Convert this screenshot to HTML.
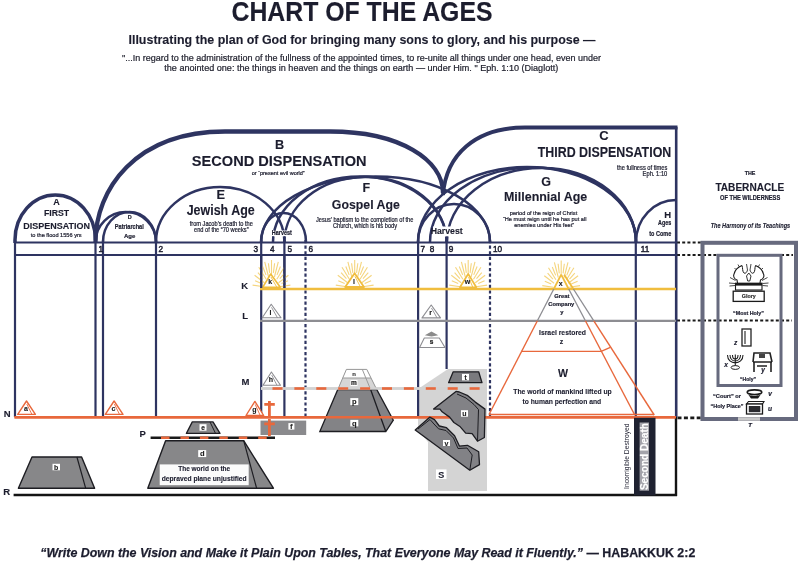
<!DOCTYPE html>
<html><head><meta charset="utf-8">
<style>
html,body{margin:0;padding:0;background:#ffffff;}
svg{display:block;filter:blur(0.3px);}
text{font-family:"Liberation Sans",sans-serif;}
</style></head><body>
<svg width="809" height="561" viewBox="0 0 809 561">
<rect width="809" height="561" fill="#ffffff"/>
<text x="231.5" y="21.2" font-size="27.3" font-weight="bold" textLength="261" lengthAdjust="spacingAndGlyphs" fill="#1c1d2e" stroke="#1c1d2e" stroke-width="0.12">CHART OF THE AGES</text>
<text x="128.5" y="44" font-size="13.5" font-weight="bold" textLength="467" lengthAdjust="spacingAndGlyphs" fill="#1c1d2e" stroke="#1c1d2e" stroke-width="0.12">Illustrating the plan of God for bringing many sons to glory, and his purpose —</text>
<text x="122" y="60.6" font-size="9.6" textLength="479" lengthAdjust="spacingAndGlyphs" fill="#1e1f2c" stroke="#1e1f2c" stroke-width="0.22">"...In regard to the administration of the fullness of the appointed times, to re-unite all things under one head, even under</text>
<text x="164.3" y="70.6" font-size="9.6" textLength="394" lengthAdjust="spacingAndGlyphs" fill="#1e1f2c" stroke="#1e1f2c" stroke-width="0.22">the anointed one: the things in heaven and the things on earth — under Him. "  Eph. 1:10 (Diaglott)</text>
<polygon points="418.0,389.0 448.0,369.0 487.0,369.0 487.0,491.0 428.0,491.0 428.0,442.0 418.0,430.0" fill="#d4d4d4" stroke="none" stroke-width="1" stroke-linejoin="round"/>
<line x1="14.5" y1="242.5" x2="676" y2="242.5" stroke="#2e3461" stroke-width="2.2"/>
<line x1="14.5" y1="255" x2="676" y2="255" stroke="#2e3461" stroke-width="2.2"/>
<line x1="677" y1="242.5" x2="701" y2="242.5" stroke="#1a1a1a" stroke-width="2.2" stroke-dasharray="3 2.2"/>
<line x1="677" y1="255" x2="793" y2="255" stroke="#1a1a1a" stroke-width="2.2" stroke-dasharray="3 2.2"/>
<line x1="677" y1="320.5" x2="792" y2="320.5" stroke="#1a1a1a" stroke-width="2.2" stroke-dasharray="3 2.2"/>
<line x1="677.5" y1="417.8" x2="701" y2="417.8" stroke="#1a1a1a" stroke-width="2.8" stroke-dasharray="4 2.4"/>
<line x1="15" y1="240" x2="15" y2="417" stroke="#2e3461" stroke-width="2.2"/>
<line x1="95.5" y1="240" x2="95.5" y2="417" stroke="#2e3461" stroke-width="2.2"/>
<line x1="103" y1="240" x2="103" y2="417" stroke="#2e3461" stroke-width="2.2"/>
<line x1="156" y1="240" x2="156" y2="417" stroke="#2e3461" stroke-width="2.2"/>
<line x1="261.2" y1="240" x2="261.2" y2="417" stroke="#2e3461" stroke-width="2.2"/>
<line x1="284.4" y1="240" x2="284.4" y2="417" stroke="#2e3461" stroke-width="2.2"/>
<line x1="418.1" y1="240" x2="418.1" y2="417" stroke="#2e3461" stroke-width="2.2"/>
<line x1="635.8" y1="240" x2="635.8" y2="417" stroke="#2e3461" stroke-width="2.2"/>
<line x1="446.6" y1="240" x2="446.6" y2="369" stroke="#2e3461" stroke-width="2.2"/>
<line x1="676.2" y1="127" x2="676.2" y2="417" stroke="#2e3461" stroke-width="2.6"/>
<line x1="305.5" y1="240" x2="305.5" y2="417" stroke="#2e3461" stroke-width="2.2" stroke-dasharray="3.2 2.4"/>
<line x1="490" y1="240" x2="490" y2="417" stroke="#2e3461" stroke-width="2.2" stroke-dasharray="3.2 2.4"/>
<path d="M15,243 L15,240 A40.25,45 0 0 1 95.5,240" stroke="#2e3461" stroke-width="3.5" fill="none"/>
<path d="M95.5,242 C95.5,190 135,131.5 225,131.5 L330,131.5 C400,131.5 443,160 443,193" stroke="#2e3461" stroke-width="4.3" fill="none"/>
<path d="M443,195 C446,155 475,127.5 525,127.5 L677.5,127.5" stroke="#2e3461" stroke-width="3.8" fill="none"/>
<path d="M95.5,242 A30.25,30 0 0 1 156,242" stroke="#2e3461" stroke-width="2.5" fill="none"/>
<path d="M103,242 A26.5,30 0 0 1 156,242" stroke="#2e3461" stroke-width="2.5" fill="none"/>
<path d="M156,242 A64.19999999999999,55 0 0 1 284.4,242" stroke="#2e3461" stroke-width="2.5" fill="none"/>
<path d="M261,242 A22.5,29 0 0 1 306,242" stroke="#2e3461" stroke-width="2.5" fill="none"/>
<path d="M261.2,242 A114.4,65.5 0 0 1 490,242" stroke="#2e3461" stroke-width="2.5" fill="none"/>
<path d="M273,242 A86.80000000000001,65.5 0 0 1 446.6,242" stroke="#2e3461" stroke-width="2.5" fill="none"/>
<path d="M284.4,242 A81.10000000000002,65 0 0 1 446.6,242" stroke="#2e3461" stroke-width="2.5" fill="none"/>
<path d="M418,242 A36.0,38 0 0 1 490,242" stroke="#2e3461" stroke-width="2.5" fill="none"/>
<path d="M418,242 A109.0,75 0 0 1 636,242" stroke="#2e3461" stroke-width="2.5" fill="none"/>
<path d="M430,242 A103.0,74.5 0 0 1 636,242" stroke="#2e3461" stroke-width="2.5" fill="none"/>
<path d="M447,242 A94.5,74 0 0 1 636,242" stroke="#2e3461" stroke-width="2.5" fill="none"/>
<rect x="271" y="230.5" width="22" height="6" fill="#ffffff"/>
<rect x="433" y="226.5" width="30" height="10" fill="#ffffff"/>
<line x1="273" y1="236.2" x2="273" y2="243" stroke="#2e3461" stroke-width="1.8"/>
<line x1="284.4" y1="236.2" x2="284.4" y2="243" stroke="#2e3461" stroke-width="1.8"/>
<line x1="430" y1="236.5" x2="430" y2="243" stroke="#2e3461" stroke-width="1.8"/>
<line x1="447" y1="236.5" x2="447" y2="243" stroke="#2e3461" stroke-width="1.8"/>
<path d="M636,242 A40,42 0 0 1 676,200" stroke="#2e3461" stroke-width="2.5" fill="none"/>
<text x="56.5" y="204.5" font-size="9" font-weight="bold" text-anchor="middle" fill="#1c1d2e" stroke="#1c1d2e" stroke-width="0.12">A</text>
<text x="56.5" y="216" font-size="9" font-weight="bold" text-anchor="middle" textLength="25.2" lengthAdjust="spacingAndGlyphs" fill="#1c1d2e" stroke="#1c1d2e" stroke-width="0.12">FIRST</text>
<text x="56.7" y="228.6" font-size="9.5" font-weight="bold" text-anchor="middle" textLength="66.7" lengthAdjust="spacingAndGlyphs" fill="#1c1d2e" stroke="#1c1d2e" stroke-width="0.12">DISPENSATION</text>
<text x="56.2" y="236.5" font-size="5.8" text-anchor="middle" textLength="50.9" lengthAdjust="spacingAndGlyphs" fill="#1c1d2e" stroke="#1c1d2e" stroke-width="0.22">to the flood 1556 yrs</text>
<text x="129.7" y="218.7" font-size="5.5" font-weight="bold" text-anchor="middle" fill="#1c1d2e" stroke="#1c1d2e" stroke-width="0.2">D</text>
<text x="129.3" y="228.7" font-size="6.3" font-weight="bold" text-anchor="middle" textLength="29" lengthAdjust="spacingAndGlyphs" fill="#1c1d2e" stroke="#1c1d2e" stroke-width="0.2">Patriarchal</text>
<text x="129.7" y="238" font-size="6" font-weight="bold" text-anchor="middle" fill="#1c1d2e" stroke="#1c1d2e" stroke-width="0.2">Age</text>
<text x="220.7" y="198.5" font-size="12.8" font-weight="bold" text-anchor="middle" fill="#1c1d2e" stroke="#1c1d2e" stroke-width="0.12">E</text>
<text x="220.7" y="214.6" font-size="14" font-weight="bold" text-anchor="middle" textLength="68" lengthAdjust="spacingAndGlyphs" fill="#1c1d2e" stroke="#1c1d2e" stroke-width="0.12">Jewish Age</text>
<text x="221.3" y="226.4" font-size="6.8" text-anchor="middle" textLength="63" lengthAdjust="spacingAndGlyphs" fill="#1c1d2e" stroke="#1c1d2e" stroke-width="0.22">from Jacob's death to the</text>
<text x="221.3" y="232" font-size="6.8" text-anchor="middle" textLength="54.5" lengthAdjust="spacingAndGlyphs" fill="#1c1d2e" stroke="#1c1d2e" stroke-width="0.22">end of the “70 weeks”</text>
<text x="279.5" y="148.5" font-size="12.7" font-weight="bold" text-anchor="middle" fill="#1c1d2e" stroke="#1c1d2e" stroke-width="0.12">B</text>
<text x="279.2" y="165.8" font-size="15.5" font-weight="bold" text-anchor="middle" textLength="174.7" lengthAdjust="spacingAndGlyphs" fill="#1c1d2e" stroke="#1c1d2e" stroke-width="0.12">SECOND DISPENSATION</text>
<text x="278.2" y="174.5" font-size="5.8" text-anchor="middle" textLength="53" lengthAdjust="spacingAndGlyphs" fill="#1c1d2e" stroke="#1c1d2e" stroke-width="0.22">or “present evil world”</text>
<text x="366.4" y="192.4" font-size="12.5" font-weight="bold" text-anchor="middle" fill="#1c1d2e" stroke="#1c1d2e" stroke-width="0.12">F</text>
<text x="365.8" y="208.8" font-size="13.5" font-weight="bold" text-anchor="middle" textLength="68" lengthAdjust="spacingAndGlyphs" fill="#1c1d2e" stroke="#1c1d2e" stroke-width="0.12">Gospel Age</text>
<text x="364.7" y="222.4" font-size="6.8" text-anchor="middle" textLength="97.4" lengthAdjust="spacingAndGlyphs" fill="#1c1d2e" stroke="#1c1d2e" stroke-width="0.22">Jesus' baptism to the completion of the</text>
<text x="365" y="227.8" font-size="6.8" text-anchor="middle" textLength="64" lengthAdjust="spacingAndGlyphs" fill="#1c1d2e" stroke="#1c1d2e" stroke-width="0.22">Church, which is his body</text>
<text x="604" y="140.4" font-size="13" font-weight="bold" text-anchor="middle" fill="#1c1d2e" stroke="#1c1d2e" stroke-width="0.12">C</text>
<text x="604.5" y="156.6" font-size="13.8" font-weight="bold" text-anchor="middle" textLength="133.5" lengthAdjust="spacingAndGlyphs" fill="#1c1d2e" stroke="#1c1d2e" stroke-width="0.12">THIRD DISPENSATION</text>
<text x="667.3" y="170" font-size="6.5" text-anchor="end" textLength="50.4" lengthAdjust="spacingAndGlyphs" fill="#1c1d2e" stroke="#1c1d2e" stroke-width="0.22">the fullness of times</text>
<text x="667.3" y="176.4" font-size="6.5" text-anchor="end" textLength="24.7" lengthAdjust="spacingAndGlyphs" fill="#1c1d2e" stroke="#1c1d2e" stroke-width="0.22">Eph. 1:10</text>
<text x="546" y="185.8" font-size="12.5" font-weight="bold" text-anchor="middle" fill="#1c1d2e" stroke="#1c1d2e" stroke-width="0.12">G</text>
<text x="545.6" y="201.3" font-size="13.5" font-weight="bold" text-anchor="middle" textLength="83.2" lengthAdjust="spacingAndGlyphs" fill="#1c1d2e" stroke="#1c1d2e" stroke-width="0.12">Millennial Age</text>
<text x="543.5" y="214.6" font-size="6.2" text-anchor="middle" textLength="67.4" lengthAdjust="spacingAndGlyphs" fill="#1c1d2e" stroke="#1c1d2e" stroke-width="0.22">period of the reign of Christ</text>
<text x="544.7" y="220.8" font-size="6.2" text-anchor="middle" textLength="83.5" lengthAdjust="spacingAndGlyphs" fill="#1c1d2e" stroke="#1c1d2e" stroke-width="0.22">“He must reign until he has put all</text>
<text x="544.2" y="226.6" font-size="6.2" text-anchor="middle" textLength="60" lengthAdjust="spacingAndGlyphs" fill="#1c1d2e" stroke="#1c1d2e" stroke-width="0.22">enemies under His feet”</text>
<text x="671.2" y="217.6" font-size="9.5" font-weight="bold" text-anchor="end" fill="#1c1d2e" stroke="#1c1d2e" stroke-width="0.12">H</text>
<text x="671.2" y="225.3" font-size="6.3" font-weight="bold" text-anchor="end" textLength="13.2" lengthAdjust="spacingAndGlyphs" fill="#1c1d2e" stroke="#1c1d2e" stroke-width="0.2">Ages</text>
<text x="671.2" y="235.6" font-size="6.3" font-weight="bold" text-anchor="end" textLength="21.9" lengthAdjust="spacingAndGlyphs" fill="#1c1d2e" stroke="#1c1d2e" stroke-width="0.2">to Come</text>
<text x="281.8" y="234.7" font-size="6.5" font-weight="bold" text-anchor="middle" textLength="20" lengthAdjust="spacingAndGlyphs" fill="#1c1d2e" stroke="#1c1d2e" stroke-width="0.2">Harvest</text>
<text x="446.7" y="233.7" font-size="8.7" font-weight="bold" text-anchor="middle" textLength="32" lengthAdjust="spacingAndGlyphs" fill="#1c1d2e" stroke="#1c1d2e" stroke-width="0.12">Harvest</text>
<text x="98.5" y="251.5" font-size="8.2" fill="#1c1d2e" stroke="#1c1d2e" stroke-width="0.45">1</text>
<text x="158.5" y="251.5" font-size="8.2" fill="#1c1d2e" stroke="#1c1d2e" stroke-width="0.45">2</text>
<text x="253.6" y="251.5" font-size="8.2" fill="#1c1d2e" stroke="#1c1d2e" stroke-width="0.45">3</text>
<text x="270" y="251.5" font-size="8.2" fill="#1c1d2e" stroke="#1c1d2e" stroke-width="0.45">4</text>
<text x="287.6" y="251.5" font-size="8.2" fill="#1c1d2e" stroke="#1c1d2e" stroke-width="0.45">5</text>
<text x="308.6" y="251.5" font-size="8.2" fill="#1c1d2e" stroke="#1c1d2e" stroke-width="0.45">6</text>
<text x="420.4" y="251.5" font-size="8.2" fill="#1c1d2e" stroke="#1c1d2e" stroke-width="0.45">7</text>
<text x="429.7" y="251.5" font-size="8.2" fill="#1c1d2e" stroke="#1c1d2e" stroke-width="0.45">8</text>
<text x="448.8" y="251.5" font-size="8.2" fill="#1c1d2e" stroke="#1c1d2e" stroke-width="0.45">9</text>
<text x="493" y="251.5" font-size="8.2" fill="#1c1d2e" stroke="#1c1d2e" stroke-width="0.45">10</text>
<text x="640.8" y="251.5" font-size="8.2" fill="#1c1d2e" stroke="#1c1d2e" stroke-width="0.45">11</text>
<line x1="260" y1="289" x2="676" y2="289" stroke="#f0bd3e" stroke-width="2.6"/>
<line x1="260" y1="320.8" x2="676" y2="320.8" stroke="#8d8d92" stroke-width="2.2"/>
<line x1="261" y1="388.5" x2="487" y2="388.5" stroke="#d2d2d2" stroke-width="2.5"/>
<line x1="272.5" y1="388.5" x2="487" y2="388.5" stroke="#e8683c" stroke-width="2.5" stroke-dasharray="10 11.9"/>
<line x1="14.5" y1="417.2" x2="676" y2="417.2" stroke="#e8683c" stroke-width="2.6"/>
<line x1="150.6" y1="437.8" x2="275" y2="437.8" stroke="#1a1a1a" stroke-width="2.5"/>
<line x1="161" y1="437.8" x2="275" y2="437.8" stroke="#e8683c" stroke-width="2.6" stroke-dasharray="8.5 10.94"/>
<line x1="13.6" y1="495" x2="677" y2="495" stroke="#141414" stroke-width="2.6"/>
<line x1="676" y1="417" x2="676" y2="496" stroke="#141414" stroke-width="2.4"/>
<text x="248" y="288.7" font-size="9.5" font-weight="bold" text-anchor="end" fill="#1c1d2e" stroke="#1c1d2e" stroke-width="0.12">K</text>
<text x="248" y="319.3" font-size="9.5" font-weight="bold" text-anchor="end" fill="#1c1d2e" stroke="#1c1d2e" stroke-width="0.12">L</text>
<text x="249.3" y="384.5" font-size="9.5" font-weight="bold" text-anchor="end" fill="#1c1d2e" stroke="#1c1d2e" stroke-width="0.12">M</text>
<text x="10.5" y="417.2" font-size="9.5" font-weight="bold" text-anchor="end" fill="#1c1d2e" stroke="#1c1d2e" stroke-width="0.12">N</text>
<text x="145.8" y="436.8" font-size="9.5" font-weight="bold" text-anchor="end" fill="#1c1d2e" stroke="#1c1d2e" stroke-width="0.12">P</text>
<text x="10.2" y="495.1" font-size="9.5" font-weight="bold" text-anchor="end" fill="#1c1d2e" stroke="#1c1d2e" stroke-width="0.12">R</text>
<polygon points="26.5,401.0 35.4,414.4 17.7,414.4" fill="#ffffff" stroke="#e8683c" stroke-width="1.4" stroke-linejoin="round"/>
<line x1="26.8" y1="404" x2="31.9" y2="414.4" stroke="#e8683c" stroke-width="0.9"/>
<text x="25.9" y="411.2" font-size="7" font-weight="bold" text-anchor="middle" fill="#1a1a1a" stroke="#1a1a1a" stroke-width="0.12">a</text>
<polygon points="114.1,401.0 123.0,414.4 105.3,414.4" fill="#ffffff" stroke="#e8683c" stroke-width="1.4" stroke-linejoin="round"/>
<line x1="114.39999999999999" y1="404" x2="119.5" y2="414.4" stroke="#e8683c" stroke-width="0.9"/>
<text x="113.5" y="411.2" font-size="7" font-weight="bold" text-anchor="middle" fill="#1a1a1a" stroke="#1a1a1a" stroke-width="0.12">c</text>
<polygon points="254.9,401.4 263.7,415.5 246.0,415.5" fill="#ffffff" stroke="#e8683c" stroke-width="1.4" stroke-linejoin="round"/>
<line x1="255.20000000000002" y1="404.4" x2="260.2" y2="415.5" stroke="#e8683c" stroke-width="0.9"/>
<text x="254.3" y="412.3" font-size="7" font-weight="bold" text-anchor="middle" fill="#1a1a1a" stroke="#1a1a1a" stroke-width="0.12">g</text>
<polygon points="271.4,372.0 280.5,385.3 263.0,385.3" fill="#ffffff" stroke="#8d8d92" stroke-width="1.1" stroke-linejoin="round"/>
<line x1="271.7" y1="375" x2="277.0" y2="385.3" stroke="#8d8d92" stroke-width="0.9"/>
<text x="270.79999999999995" y="382.1" font-size="7" font-weight="bold" text-anchor="middle" fill="#1a1a1a" stroke="#1a1a1a" stroke-width="0.12">h</text>
<polygon points="271.2,304.3 281.0,317.8 262.2,317.8" fill="#ffffff" stroke="#8d8d92" stroke-width="1.1" stroke-linejoin="round"/>
<line x1="271.5" y1="307.3" x2="277.5" y2="317.8" stroke="#8d8d92" stroke-width="0.9"/>
<text x="270.59999999999997" y="314.6" font-size="7" font-weight="bold" text-anchor="middle" fill="#1a1a1a" stroke="#1a1a1a" stroke-width="0.12">l</text>
<polygon points="431.2,305.0 440.5,317.9 422.0,317.9" fill="#ffffff" stroke="#8d8d92" stroke-width="1.1" stroke-linejoin="round"/>
<line x1="431.5" y1="308" x2="437.0" y2="317.9" stroke="#8d8d92" stroke-width="0.9"/>
<text x="430.59999999999997" y="314.7" font-size="7" font-weight="bold" text-anchor="middle" fill="#1a1a1a" stroke="#1a1a1a" stroke-width="0.12">r</text>
<line x1="279.4" y1="286.8" x2="290.4" y2="285.1" stroke="#f5d57e" stroke-width="1.1"/>
<line x1="281.5" y1="283.6" x2="287.9" y2="280.8" stroke="#f5d57e" stroke-width="1.1"/>
<line x1="278.6" y1="282.7" x2="288.4" y2="275.3" stroke="#f5d57e" stroke-width="1.1"/>
<line x1="279.8" y1="278.6" x2="285.1" y2="272.7" stroke="#f5d57e" stroke-width="1.1"/>
<line x1="276.8" y1="279.3" x2="284.2" y2="267.2" stroke="#f5d57e" stroke-width="1.1"/>
<line x1="277.0" y1="274.9" x2="280.4" y2="266.5" stroke="#f5d57e" stroke-width="1.1"/>
<line x1="274.4" y1="277.0" x2="278.3" y2="261.9" stroke="#f5d57e" stroke-width="1.1"/>
<line x1="273.4" y1="272.9" x2="274.6" y2="263.2" stroke="#f5d57e" stroke-width="1.1"/>
<line x1="271.5" y1="276.2" x2="271.5" y2="260.0" stroke="#f5d57e" stroke-width="1.1"/>
<line x1="269.6" y1="272.9" x2="268.4" y2="263.2" stroke="#f5d57e" stroke-width="1.1"/>
<line x1="268.6" y1="277.0" x2="264.7" y2="261.9" stroke="#f5d57e" stroke-width="1.1"/>
<line x1="266.0" y1="274.9" x2="262.6" y2="266.5" stroke="#f5d57e" stroke-width="1.1"/>
<line x1="266.2" y1="279.3" x2="258.8" y2="267.2" stroke="#f5d57e" stroke-width="1.1"/>
<line x1="263.2" y1="278.6" x2="257.9" y2="272.7" stroke="#f5d57e" stroke-width="1.1"/>
<line x1="264.4" y1="282.7" x2="254.6" y2="275.3" stroke="#f5d57e" stroke-width="1.1"/>
<line x1="261.5" y1="283.6" x2="255.1" y2="280.8" stroke="#f5d57e" stroke-width="1.1"/>
<line x1="263.6" y1="286.8" x2="252.6" y2="285.1" stroke="#f5d57e" stroke-width="1.1"/>
<polygon points="270.7,274.0 280.3,287.2 262.8,287.2" fill="#ffffff" stroke="#f0bd3e" stroke-width="1.6" stroke-linejoin="round"/>
<line x1="271.0" y1="277" x2="276.8" y2="287.2" stroke="#f0bd3e" stroke-width="0.9"/>
<text x="270.09999999999997" y="284.0" font-size="7" font-weight="bold" text-anchor="middle" fill="#1a1a1a" stroke="#1a1a1a" stroke-width="0.12">k</text>
<line x1="261.2" y1="256" x2="261.2" y2="288" stroke="#2e3461" stroke-width="2.2"/>
<line x1="284.4" y1="256" x2="284.4" y2="288" stroke="#2e3461" stroke-width="2.2"/>
<line x1="362.6" y1="286.8" x2="373.6" y2="285.1" stroke="#f5d57e" stroke-width="1.1"/>
<line x1="364.7" y1="283.6" x2="371.1" y2="280.8" stroke="#f5d57e" stroke-width="1.1"/>
<line x1="361.8" y1="282.7" x2="371.6" y2="275.3" stroke="#f5d57e" stroke-width="1.1"/>
<line x1="363.0" y1="278.6" x2="368.3" y2="272.7" stroke="#f5d57e" stroke-width="1.1"/>
<line x1="360.0" y1="279.3" x2="367.4" y2="267.2" stroke="#f5d57e" stroke-width="1.1"/>
<line x1="360.2" y1="274.9" x2="363.6" y2="266.5" stroke="#f5d57e" stroke-width="1.1"/>
<line x1="357.6" y1="277.0" x2="361.5" y2="261.9" stroke="#f5d57e" stroke-width="1.1"/>
<line x1="356.6" y1="272.9" x2="357.8" y2="263.2" stroke="#f5d57e" stroke-width="1.1"/>
<line x1="354.7" y1="276.2" x2="354.7" y2="260.0" stroke="#f5d57e" stroke-width="1.1"/>
<line x1="352.8" y1="272.9" x2="351.6" y2="263.2" stroke="#f5d57e" stroke-width="1.1"/>
<line x1="351.8" y1="277.0" x2="347.9" y2="261.9" stroke="#f5d57e" stroke-width="1.1"/>
<line x1="349.2" y1="274.9" x2="345.8" y2="266.5" stroke="#f5d57e" stroke-width="1.1"/>
<line x1="349.4" y1="279.3" x2="342.0" y2="267.2" stroke="#f5d57e" stroke-width="1.1"/>
<line x1="346.4" y1="278.6" x2="341.1" y2="272.7" stroke="#f5d57e" stroke-width="1.1"/>
<line x1="347.6" y1="282.7" x2="337.8" y2="275.3" stroke="#f5d57e" stroke-width="1.1"/>
<line x1="344.7" y1="283.6" x2="338.3" y2="280.8" stroke="#f5d57e" stroke-width="1.1"/>
<line x1="346.8" y1="286.8" x2="335.8" y2="285.1" stroke="#f5d57e" stroke-width="1.1"/>
<polygon points="354.6,273.3 364.0,287.0 345.2,287.0" fill="#ffffff" stroke="#f0bd3e" stroke-width="1.8" stroke-linejoin="round"/>
<line x1="354.90000000000003" y1="276.3" x2="360.5" y2="287" stroke="#f0bd3e" stroke-width="0.9"/>
<text x="354.0" y="283.8" font-size="7" font-weight="bold" text-anchor="middle" fill="#1a1a1a" stroke="#1a1a1a" stroke-width="0.12">l</text>
<line x1="476.1" y1="286.8" x2="487.1" y2="285.1" stroke="#f5d57e" stroke-width="1.1"/>
<line x1="478.2" y1="283.6" x2="484.6" y2="280.8" stroke="#f5d57e" stroke-width="1.1"/>
<line x1="475.3" y1="282.7" x2="485.1" y2="275.3" stroke="#f5d57e" stroke-width="1.1"/>
<line x1="476.5" y1="278.6" x2="481.8" y2="272.7" stroke="#f5d57e" stroke-width="1.1"/>
<line x1="473.5" y1="279.3" x2="480.9" y2="267.2" stroke="#f5d57e" stroke-width="1.1"/>
<line x1="473.7" y1="274.9" x2="477.1" y2="266.5" stroke="#f5d57e" stroke-width="1.1"/>
<line x1="471.1" y1="277.0" x2="475.0" y2="261.9" stroke="#f5d57e" stroke-width="1.1"/>
<line x1="470.1" y1="272.9" x2="471.3" y2="263.2" stroke="#f5d57e" stroke-width="1.1"/>
<line x1="468.2" y1="276.2" x2="468.2" y2="260.0" stroke="#f5d57e" stroke-width="1.1"/>
<line x1="466.3" y1="272.9" x2="465.1" y2="263.2" stroke="#f5d57e" stroke-width="1.1"/>
<line x1="465.3" y1="277.0" x2="461.4" y2="261.9" stroke="#f5d57e" stroke-width="1.1"/>
<line x1="462.7" y1="274.9" x2="459.3" y2="266.5" stroke="#f5d57e" stroke-width="1.1"/>
<line x1="462.9" y1="279.3" x2="455.5" y2="267.2" stroke="#f5d57e" stroke-width="1.1"/>
<line x1="459.9" y1="278.6" x2="454.6" y2="272.7" stroke="#f5d57e" stroke-width="1.1"/>
<line x1="461.1" y1="282.7" x2="451.3" y2="275.3" stroke="#f5d57e" stroke-width="1.1"/>
<line x1="458.2" y1="283.6" x2="451.8" y2="280.8" stroke="#f5d57e" stroke-width="1.1"/>
<line x1="460.3" y1="286.8" x2="449.3" y2="285.1" stroke="#f5d57e" stroke-width="1.1"/>
<polygon points="468.2,273.9 476.3,287.3 460.0,287.3" fill="#ffffff" stroke="#f0bd3e" stroke-width="1.8" stroke-linejoin="round"/>
<line x1="468.5" y1="276.9" x2="472.8" y2="287.3" stroke="#f0bd3e" stroke-width="0.9"/>
<text x="467.59999999999997" y="284.1" font-size="7" font-weight="bold" text-anchor="middle" fill="#1a1a1a" stroke="#1a1a1a" stroke-width="0.12">w</text>
<line x1="569.1" y1="287.3" x2="580.1" y2="285.6" stroke="#f5d57e" stroke-width="1.1"/>
<line x1="571.2" y1="284.1" x2="577.6" y2="281.3" stroke="#f5d57e" stroke-width="1.1"/>
<line x1="568.3" y1="283.2" x2="578.1" y2="275.8" stroke="#f5d57e" stroke-width="1.1"/>
<line x1="569.5" y1="279.1" x2="574.8" y2="273.2" stroke="#f5d57e" stroke-width="1.1"/>
<line x1="566.5" y1="279.8" x2="573.9" y2="267.7" stroke="#f5d57e" stroke-width="1.1"/>
<line x1="566.7" y1="275.4" x2="570.1" y2="267.0" stroke="#f5d57e" stroke-width="1.1"/>
<line x1="564.1" y1="277.5" x2="568.0" y2="262.4" stroke="#f5d57e" stroke-width="1.1"/>
<line x1="563.1" y1="273.4" x2="564.3" y2="263.7" stroke="#f5d57e" stroke-width="1.1"/>
<line x1="561.2" y1="276.7" x2="561.2" y2="260.5" stroke="#f5d57e" stroke-width="1.1"/>
<line x1="559.3" y1="273.4" x2="558.1" y2="263.7" stroke="#f5d57e" stroke-width="1.1"/>
<line x1="558.3" y1="277.5" x2="554.4" y2="262.4" stroke="#f5d57e" stroke-width="1.1"/>
<line x1="555.7" y1="275.4" x2="552.3" y2="267.0" stroke="#f5d57e" stroke-width="1.1"/>
<line x1="555.9" y1="279.8" x2="548.5" y2="267.7" stroke="#f5d57e" stroke-width="1.1"/>
<line x1="552.9" y1="279.1" x2="547.6" y2="273.2" stroke="#f5d57e" stroke-width="1.1"/>
<line x1="554.1" y1="283.2" x2="544.3" y2="275.8" stroke="#f5d57e" stroke-width="1.1"/>
<line x1="551.2" y1="284.1" x2="544.8" y2="281.3" stroke="#f5d57e" stroke-width="1.1"/>
<line x1="553.3" y1="287.3" x2="542.3" y2="285.6" stroke="#f5d57e" stroke-width="1.1"/>
<polygon points="431.5,331.5 438.3,335.2 431.5,336.6 424.8,335.2" fill="#8a8a8a" stroke="none" stroke-width="1" stroke-linejoin="round"/>
<polygon points="424.3,338.0 439.3,338.0 445.0,347.5 419.6,347.5" fill="#ffffff" stroke="#8d8d92" stroke-width="1.1" stroke-linejoin="round"/>
<text x="431.5" y="344" font-size="6.5" font-weight="bold" text-anchor="middle" fill="#1a1a1a" stroke="#1a1a1a" stroke-width="0.2">s</text>
<polygon points="453.2,371.8 478.7,371.8 482.0,382.7 448.6,382.7" fill="#7a7a7e" stroke="#1d1d22" stroke-width="1.3" stroke-linejoin="round"/>
<rect x="462.0" y="373.9" width="7" height="6.5" fill="#ffffff"/>
<text x="465.5" y="379.53999999999996" font-size="6.5" font-weight="bold" text-anchor="middle" fill="#222" stroke="#222" stroke-width="0.2">t</text>
<rect x="260.5" y="420.6" width="45.7" height="14.4" fill="#8a8a8d"/>
<rect x="288.4" y="423.1" width="6" height="6.5" fill="#ffffff"/>
<text x="291.4" y="428.64" font-size="6.5" font-weight="bold" text-anchor="middle" fill="#222" stroke="#222" stroke-width="0.2">f</text>
<path d="M269.4,401 L269.4,417 M264.3,404.4 L274.8,404.4" stroke="#e8683c" stroke-width="2.8" fill="none"/>
<path d="M269.4,419 L269.4,436 M264.3,423.8 L274.8,423.8" stroke="#e8683c" stroke-width="2.8" fill="none"/>
<polygon points="192.3,421.9 213.0,421.9 220.0,433.4 186.4,433.4" fill="#878789" stroke="#1d1d22" stroke-width="1.3" stroke-linejoin="round"/>
<line x1="210" y1="421.9" x2="215.5" y2="433.4" stroke="#1d1d22" stroke-width="1"/>
<rect x="199.5" y="424.2" width="7" height="6.5" fill="#ffffff"/>
<text x="203" y="429.84" font-size="6.5" font-weight="bold" text-anchor="middle" fill="#222" stroke="#222" stroke-width="0.2">e</text>
<polygon points="165.6,440.7 243.7,440.7 273.4,488.2 147.8,488.2" fill="#878789" stroke="#1d1d22" stroke-width="1.4" stroke-linejoin="round"/>
<line x1="243.7" y1="440.7" x2="256.6" y2="488.2" stroke="#1d1d22" stroke-width="1.2"/>
<rect x="198.2" y="450.1" width="8" height="7" fill="#ffffff"/>
<text x="202.2" y="456.3" font-size="7.5" font-weight="bold" text-anchor="middle" fill="#222" stroke="#222" stroke-width="0.12">d</text>
<rect x="159.7" y="464.4" width="89" height="20.8" fill="#fbfbfb"/>
<text x="204.2" y="471.4" font-size="7" font-weight="bold" text-anchor="middle" textLength="52" lengthAdjust="spacingAndGlyphs" fill="#1c1d2e" stroke="#1c1d2e" stroke-width="0.12">The world on the</text>
<text x="204.2" y="481.3" font-size="7" font-weight="bold" text-anchor="middle" textLength="85" lengthAdjust="spacingAndGlyphs" fill="#1c1d2e" stroke="#1c1d2e" stroke-width="0.12">depraved plane unjustified</text>
<polygon points="32.0,457.0 81.6,457.0 94.6,488.3 18.4,488.3" fill="#878789" stroke="#1d1d22" stroke-width="1.4" stroke-linejoin="round"/>
<line x1="76.9" y1="457" x2="85.7" y2="488.3" stroke="#1d1d22" stroke-width="1.2"/>
<rect x="52.5" y="463.8" width="7.5" height="6.5" fill="#ffffff"/>
<text x="56.2" y="469.52" font-size="7" font-weight="bold" text-anchor="middle" fill="#222" stroke="#222" stroke-width="0.12">b</text>
<polygon points="346.4,369.4 366.8,369.4 376.7,389.5 393.3,420.2 385.8,431.5 319.8,431.5" fill="#838386" stroke="none" stroke-width="1" stroke-linejoin="round"/>
<polygon points="346.4,369.4 366.8,369.4 371.0,378.0 342.7,378.0" fill="#ffffff" stroke="none" stroke-width="1" stroke-linejoin="round"/>
<polygon points="342.7,378.0 371.0,378.0 376.7,389.5 337.8,389.5" fill="#d6d6d6" stroke="none" stroke-width="1" stroke-linejoin="round"/>
<path d="M346.4,369.4 L366.8,369.4 L376.7,389.5 M362.3,369.4 L370.6,389.5 M342.7,378 L371,378 M346.4,369.4 L337.8,389.5" stroke="#9a9a9a" stroke-width="1" fill="none"/>
<path d="M337.8,389.5 L376.7,389.5 L393.3,420.2 L385.8,431.5 L319.8,431.5 Z M370.6,389.5 L385.8,431.5" stroke="#1d1d22" stroke-width="1.3" fill="none"/>
<line x1="261" y1="388.5" x2="487" y2="388.5" stroke="#d2d2d2" stroke-width="2.5"/>
<line x1="272.5" y1="388.5" x2="487" y2="388.5" stroke="#e8683c" stroke-width="2.5" stroke-dasharray="10 11.9"/>
<line x1="14.5" y1="417.2" x2="676" y2="417.2" stroke="#e8683c" stroke-width="2.6"/>
<rect x="351.0" y="370.9" width="6" height="5.5" fill="none"/>
<text x="354" y="375.76000000000005" font-size="6" font-weight="bold" text-anchor="middle" fill="#444" stroke="#444" stroke-width="0.2">n</text>
<rect x="350.5" y="380.0" width="7" height="6" fill="#ffffff"/>
<text x="354" y="385.34" font-size="6.5" font-weight="bold" text-anchor="middle" fill="#222" stroke="#222" stroke-width="0.2">m</text>
<rect x="350.3" y="398.1" width="8" height="7" fill="#ffffff"/>
<text x="354.3" y="404.3" font-size="7.5" font-weight="bold" text-anchor="middle" fill="#222" stroke="#222" stroke-width="0.12">p</text>
<rect x="350.3" y="419.9" width="8" height="6.5" fill="#ffffff"/>
<text x="354.3" y="425.9" font-size="7.5" font-weight="bold" text-anchor="middle" fill="#222" stroke="#222" stroke-width="0.12">q</text>
<line x1="561.2" y1="274.7" x2="553.8" y2="289.0" stroke="#f0bd3e" stroke-width="1.8"/>
<line x1="553.8" y1="289.0" x2="537.4" y2="320.8" stroke="#8d8d92" stroke-width="1.3"/>
<line x1="537.4" y1="320.8" x2="489.0" y2="414.5" stroke="#e8683c" stroke-width="1.4"/>
<line x1="561.2" y1="274.7" x2="568.7" y2="289.0" stroke="#f0bd3e" stroke-width="1.8"/>
<line x1="568.7" y1="289.0" x2="585.4" y2="320.8" stroke="#8d8d92" stroke-width="1.3"/>
<line x1="585.4" y1="320.8" x2="634.5" y2="414.5" stroke="#e8683c" stroke-width="1.4"/>
<line x1="564.2" y1="274.7" x2="573.4" y2="289.0" stroke="#f0bd3e" stroke-width="1.8"/>
<line x1="573.4" y1="289.0" x2="593.8" y2="320.8" stroke="#8d8d92" stroke-width="1.3"/>
<line x1="593.8" y1="320.8" x2="654.2" y2="415.0" stroke="#e8683c" stroke-width="1.4"/>
<line x1="489" y1="414.5" x2="654.2" y2="414.5" stroke="#e8683c" stroke-width="1.3"/>
<line x1="521" y1="351.4" x2="601.2" y2="351.4" stroke="#e8683c" stroke-width="1.3"/>
<line x1="601.2" y1="351.4" x2="610.3" y2="347.4" stroke="#e8683c" stroke-width="1.2"/>
<text x="561.8" y="298" font-size="5.8" font-weight="bold" text-anchor="middle" textLength="15.2" lengthAdjust="spacingAndGlyphs" fill="#1c1d2e" stroke="#1c1d2e" stroke-width="0.2">Great</text>
<text x="561.3" y="305.5" font-size="5.8" font-weight="bold" text-anchor="middle" textLength="26" lengthAdjust="spacingAndGlyphs" fill="#1c1d2e" stroke="#1c1d2e" stroke-width="0.2">Company</text>
<text x="561.8" y="313.5" font-size="5.8" font-weight="bold" text-anchor="middle" fill="#1c1d2e" stroke="#1c1d2e" stroke-width="0.2">y</text>
<text x="562.5" y="334.6" font-size="8" font-weight="bold" text-anchor="middle" textLength="47" lengthAdjust="spacingAndGlyphs" fill="#1c1d2e" stroke="#1c1d2e" stroke-width="0.12">Israel restored</text>
<text x="561.6" y="344" font-size="7" font-weight="bold" text-anchor="middle" fill="#1c1d2e" stroke="#1c1d2e" stroke-width="0.12">z</text>
<text x="563" y="377.3" font-size="11" font-weight="bold" text-anchor="middle" textLength="10" lengthAdjust="spacingAndGlyphs" fill="#1c1d2e" stroke="#1c1d2e" stroke-width="0.12">W</text>
<text x="562.5" y="393.8" font-size="8" font-weight="bold" text-anchor="middle" textLength="98.5" lengthAdjust="spacingAndGlyphs" fill="#1c1d2e" stroke="#1c1d2e" stroke-width="0.12">The world of mankind lifted up</text>
<text x="561.8" y="403.5" font-size="8" font-weight="bold" text-anchor="middle" textLength="78.8" lengthAdjust="spacingAndGlyphs" fill="#1c1d2e" stroke="#1c1d2e" stroke-width="0.12">to human perfection and</text>
<polygon points="561.2,274.7 568.5,289.0 553.5,289.0" fill="none" stroke="#f0bd3e" stroke-width="0.01" stroke-linejoin="round"/>
<text x="560.6" y="285.8" font-size="7" font-weight="bold" text-anchor="middle" fill="#1a1a1a" stroke="#1a1a1a" stroke-width="0.12">x</text>
<rect x="634" y="417.8" width="21.5" height="77.6" fill="#1f2231"/>
<rect x="639.6" y="422.5" width="9.4" height="68.2" fill="#a3a3aa"/>
<text x="0" y="0" font-size="10.6" font-weight="bold" fill="#ffffff" stroke="#ffffff" stroke-width="0.15" text-anchor="middle" textLength="67" lengthAdjust="spacingAndGlyphs" transform="translate(648.3,456.6) rotate(-90)">Second Death</text>
<text x="0" y="0" font-size="6.8" fill="#1c1d2e" text-anchor="middle" textLength="65.5" lengthAdjust="spacingAndGlyphs" transform="translate(629.2,456.2) rotate(-90)">Incorrigible Destroyed</text>
<polygon points="433.6,409.1 456.0,391.4 459.3,392.0 467.8,395.7 475.3,402.1 485.0,409.1 484.4,437.5 477.5,441.2 472.1,433.7 465.7,433.2 460.3,426.8 453.9,422.5 449.6,417.1 442.1,411.8 440.0,409.1" fill="#828286" stroke="#1d1d22" stroke-width="1.3" stroke-linejoin="round"/>
<path d="M457,394 L466,398 L474,404.5 L478.5,409.6 L477.5,441.2" stroke="#1d1d22" stroke-width="1" fill="none"/>
<rect x="461.0" y="410.2" width="7" height="6.5" fill="#ffffff"/>
<text x="464.5" y="416.02" font-size="7" font-weight="bold" text-anchor="middle" fill="#222" stroke="#222" stroke-width="0.12">u</text>
<polygon points="415.2,430.1 429.7,417.2 434.5,419.6 439.3,426.0 446.5,427.7 454.6,435.7 459.4,446.1 467.4,445.3 478.7,451.7 479.5,464.6 469.8,470.2" fill="#828286" stroke="#1d1d22" stroke-width="1.3" stroke-linejoin="round"/>
<path d="M418,429 L430,419.5 L434,424 L438.5,428.8 L446,430.5 L453.5,438 L458,448.5 L467,448 L472.2,455 L469.8,470.2" stroke="#1d1d22" stroke-width="1" fill="none"/>
<rect x="443.0" y="440.0" width="7" height="6" fill="#ffffff"/>
<text x="446.5" y="445.52" font-size="7" font-weight="bold" text-anchor="middle" fill="#222" stroke="#222" stroke-width="0.12">v</text>
<rect x="436" y="469.4" width="10.5" height="9.6" fill="#ffffff"/>
<text x="441.2" y="477.8" font-size="9" font-weight="bold" text-anchor="middle" fill="#1c1d2e" stroke="#1c1d2e" stroke-width="0.12">S</text>
<text x="40.3" y="556.7" font-size="13" font-weight="bold" fill="#1c1d2e" stroke="#1c1d2e" stroke-width="0.25" textLength="655" lengthAdjust="spacingAndGlyphs"><tspan font-style="italic">“Write Down the Vision and Make it Plain Upon Tables, That Everyone May Read it Fluently.”</tspan> — HABAKKUK 2:2</text>
<rect x="702.5" y="242.8" width="93.5" height="176.2" fill="none" stroke="#676a7e" stroke-width="4"/>
<rect x="718" y="255.3" width="63" height="130.2" fill="none" stroke="#676a7e" stroke-width="3"/>
<line x1="738" y1="419" x2="760" y2="419" stroke="#c8c8c8" stroke-width="3.5"/>
<text x="750" y="175.4" font-size="5.5" font-weight="bold" text-anchor="middle" textLength="10.7" lengthAdjust="spacingAndGlyphs" fill="#1c1d2e" stroke="#1c1d2e" stroke-width="0.2">THE</text>
<text x="749.8" y="191" font-size="10.5" font-weight="bold" text-anchor="middle" textLength="68.8" lengthAdjust="spacingAndGlyphs" fill="#1c1d2e" stroke="#1c1d2e" stroke-width="0.12">TABERNACLE</text>
<text x="750.1" y="200.1" font-size="6.5" font-weight="bold" text-anchor="middle" textLength="60.2" lengthAdjust="spacingAndGlyphs" fill="#1c1d2e" stroke="#1c1d2e" stroke-width="0.2">OF THE WILDERNESS</text>
<text x="750.4" y="227.5" font-size="7" font-weight="bold" font-style="italic" text-anchor="middle" textLength="79.5" lengthAdjust="spacingAndGlyphs" fill="#1c1d2e" stroke="#1c1d2e" stroke-width="0.12">The Harmony of its Teachings</text>
<text x="748.5" y="315.3" font-size="6.2" font-weight="bold" text-anchor="middle" textLength="31" lengthAdjust="spacingAndGlyphs" fill="#1c1d2e" stroke="#1c1d2e" stroke-width="0.2">“Most Holy”</text>
<text x="748" y="381" font-size="6.2" font-weight="bold" text-anchor="middle" textLength="16" lengthAdjust="spacingAndGlyphs" fill="#1c1d2e" stroke="#1c1d2e" stroke-width="0.2">“Holy”</text>
<text x="727" y="398" font-size="6.2" font-weight="bold" text-anchor="middle" textLength="28" lengthAdjust="spacingAndGlyphs" fill="#1c1d2e" stroke="#1c1d2e" stroke-width="0.2">“Court” or</text>
<text x="727" y="407.5" font-size="6.2" font-weight="bold" text-anchor="middle" textLength="33" lengthAdjust="spacingAndGlyphs" fill="#1c1d2e" stroke="#1c1d2e" stroke-width="0.2">“Holy Place”</text>
<text x="750" y="427" font-size="6" font-weight="bold" font-style="italic" text-anchor="middle" fill="#1c1d2e" stroke="#1c1d2e" stroke-width="0.2">T</text>
<rect x="733.2" y="291.2" width="31" height="10.2" fill="#ffffff" stroke="#1a1a1a" stroke-width="1.3"/>
<text x="748.8" y="297.6" font-size="6.2" font-weight="bold" text-anchor="middle" textLength="14" lengthAdjust="spacingAndGlyphs" fill="#333" stroke="#333" stroke-width="0.2">Glory</text>
<rect x="735.5" y="283.2" width="26.5" height="6.8" fill="#ffffff" stroke="#1a1a1a" stroke-width="1.1"/>
<rect x="735.5" y="283" width="26.5" height="2.6" fill="#1a1a1a"/>
<path d="M737.5,283 L737,280 C734,279 733,276 734,274 C735,270 738,267 742,265.5 M760,283 L760.5,280 C763.5,279 764.5,276 763.5,274 C762.5,270 759.5,267 755.5,265.5" stroke="#1a1a1a" stroke-width="1.1" fill="none"/>
<path d="M742,265.5 C743,268 742,271 744,273 C745.5,274 747,272 747.5,270 M755.5,265.5 C754.5,268 755.5,271 753.5,273 C752,274 750.5,272 750,270" stroke="#1a1a1a" stroke-width="1.0" fill="none"/>
<path d="M746.5,276 L748.8,273 L751,276 L749.8,281 L747.7,281 Z" stroke="#1a1a1a" stroke-width="0.9" fill="none"/>
<path d="M746.5,264 L747.5,270 M751,264 L750,270" stroke="#1a1a1a" stroke-width="0.8" fill="none"/>
<line x1="730" y1="277.5" x2="735.5" y2="280.5" stroke="#1a1a1a" stroke-width="0.8"/>
<line x1="729" y1="283" x2="735" y2="283.5" stroke="#1a1a1a" stroke-width="0.8"/>
<line x1="729.5" y1="286" x2="735" y2="285.5" stroke="#1a1a1a" stroke-width="0.8"/>
<line x1="767.5" y1="277.5" x2="762" y2="280.5" stroke="#1a1a1a" stroke-width="0.8"/>
<line x1="768.5" y1="283" x2="762.5" y2="283.5" stroke="#1a1a1a" stroke-width="0.8"/>
<line x1="768" y1="286" x2="762.5" y2="285.5" stroke="#1a1a1a" stroke-width="0.8"/>
<line x1="736" y1="269.5" x2="734.5" y2="268" stroke="#1a1a1a" stroke-width="0.8"/>
<line x1="739" y1="266.5" x2="738" y2="264.5" stroke="#1a1a1a" stroke-width="0.8"/>
<line x1="761.5" y1="269.5" x2="763" y2="268" stroke="#1a1a1a" stroke-width="0.8"/>
<line x1="758.5" y1="266.5" x2="759.5" y2="264.5" stroke="#1a1a1a" stroke-width="0.8"/>
<rect x="742" y="329" width="9" height="17" fill="#ffffff" stroke="#222" stroke-width="1.3"/>
<line x1="745" y1="331" x2="745" y2="344" stroke="#333" stroke-width="1.2"/>
<text x="735.5" y="345" font-size="6.5" font-weight="bold" font-style="italic" text-anchor="middle" fill="#1c1d2e" stroke="#1c1d2e" stroke-width="0.2">z</text>
<path d="M730,355 C730,363 740.5,363 740.5,355 M732.5,355 C732.5,360.5 738,360.5 738,355 M735.3,354.5 L735.3,366 M727.5,355 C727.5,365.5 743,365.5 743,355" stroke="#1a1a1a" stroke-width="1.05" fill="none"/>
<ellipse cx="735.3" cy="367.5" rx="4.2" ry="1.9" fill="#ffffff" stroke="#1a1a1a" stroke-width="1"/>
<text x="726" y="367" font-size="6.5" font-weight="bold" font-style="italic" text-anchor="middle" fill="#1c1d2e" stroke="#1c1d2e" stroke-width="0.2">x</text>
<path d="M753,362 L754,353 L770,353 L772,362 M754,362 L754,372 M771,362 L771,372 M753,362 L772,362 M757,366 L767,366" stroke="#222" stroke-width="1.6" fill="none"/>
<rect x="759" y="354" width="6" height="4" fill="#444"/>
<text x="763" y="372" font-size="6.5" font-weight="bold" font-style="italic" text-anchor="middle" fill="#1c1d2e" stroke="#1c1d2e" stroke-width="0.2">y</text>
<path d="M747.5,393.5 C747.5,396.5 761.5,396.5 761.5,393.5 L758,398.5 L751,398.5 Z" fill="#1a1a1a"/>
<ellipse cx="754.5" cy="392.2" rx="7.3" ry="2.3" fill="#ffffff" stroke="#1a1a1a" stroke-width="1.6"/>
<text x="770" y="396" font-size="6.5" font-weight="bold" font-style="italic" text-anchor="middle" fill="#1c1d2e" stroke="#1c1d2e" stroke-width="0.2">v</text>
<path d="M746.5,404 L748.5,401.5 L764,401.5 L762.5,404 Z" fill="#ffffff" stroke="#1a1a1a" stroke-width="1.1"/>
<rect x="746.5" y="404" width="16" height="10" fill="#ffffff" stroke="#1a1a1a" stroke-width="1.3"/>
<rect x="748.8" y="406" width="11.5" height="6.2" fill="#2a2a2e"/>
<text x="770" y="410.5" font-size="6.5" font-weight="bold" font-style="italic" text-anchor="middle" fill="#1c1d2e" stroke="#1c1d2e" stroke-width="0.2">u</text>
</svg>
</body></html>
